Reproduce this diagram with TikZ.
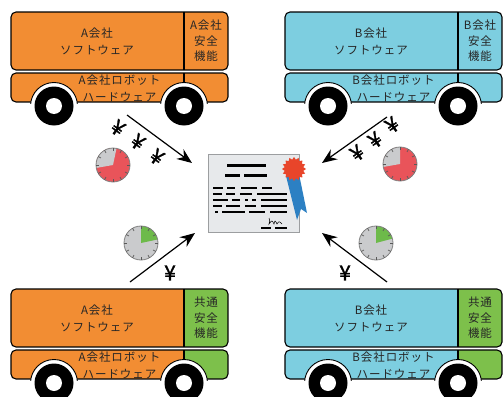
\documentclass[tikz,border=0pt]{standalone}
\usepackage{fontspec}
\setmainfont{Noto Sans CJK JP}
\newfontfamily\jpwide[LetterSpace=8]{Noto Sans CJK JP}
\newfontfamily\yenfont[FakeBold=1.5]{Noto Sans CJK JP}
\usetikzlibrary{arrows.meta,calc}

\definecolor{bodyA}{HTML}{F28D33}
\definecolor{bodyB}{HTML}{7DCEE0}
\definecolor{safeG}{HTML}{7DC04B}
\definecolor{clockgray}{HTML}{CACBCD}
\definecolor{clockred}{HTML}{E9545A}
\definecolor{clockgreen}{HTML}{6DBA4A}
\definecolor{certfill}{HTML}{E7E9EB}
\definecolor{certedge}{HTML}{9C9EA0}
\definecolor{sealred}{HTML}{E8452A}
\definecolor{ribbonblue}{HTML}{2C80C3}

\tikzset{
  outline/.style={draw=black, line width=1.1pt},
  robotlabel/.style={font=\jpwide\fontsize{11.5}{16.5}\selectfont, align=center, inner sep=0pt, text=black!85},
  sidelabel/.style={font=\jpwide\fontsize{11.5}{15.5}\selectfont, align=center, inner sep=0pt, text=black!85},
  yen/.style={font=\yenfont\fontsize{21}{21}\selectfont, inner sep=-2pt},
  flow/.style={line width=1.2pt, -{Stealth[length=15pt,width=12pt,inset=5pt]}},
  dashrow/.style={line width=1.6pt},
  clockrim/.style={draw=black!50, line width=0.8pt},
  clocktick/.style={draw=black!65, line width=0.7pt},
}

% robot: #1,#2 top-left corner; #3 body colour; #4 safety block colour;
% #5 name; #6 software text; #7 hardware text; #8 safety text
\newcommand\robotdraw[8]{%
  \begin{scope}[shift={(#1,#2)}]
    % upper body
    \begin{scope}
      \clip[rounded corners=5pt] (0,0) rectangle (217,58);
      \fill[#3] (0,0) rectangle (217,58);
      \fill[#4] (173,0) rectangle (217,58);
    \end{scope}
    \draw[outline, rounded corners=5pt] (0,0) rectangle (217,58);
    \draw[outline] (173,0) -- (173,58);
    % lower body
    \begin{scope}
      \clip[rounded corners=5pt] (0,61) rectangle (217,90);
      \fill[#3] (0,61) rectangle (217,90);
      \fill[#4] (173,61) rectangle (217,90);
    \end{scope}
    \draw[outline, rounded corners=5pt] (0,61) rectangle (217,90);
    \draw[outline] (173,61) -- (173,90);
    % wheel arches
    \begin{scope}
      \clip (-2,61) rectangle (219,91.5);
      \foreach \wx in {43,173}
        \draw[fill=white, line width=0.9pt] (\wx,94) circle (23.5);
    \end{scope}
    % wheels
    \foreach \wx in {43,173} {
      \fill[black] (\wx,94) circle (19.5);
      \fill[white] (\wx,94) circle (8);
    }
    \node[robotlabel] (#5-sw) at (86,29.5) {#6};
    \node[robotlabel] (#5-hw) at (108.5,76.5) {#7};
    \node[sidelabel] (#5-safe) at (195,29) {#8};
  \end{scope}%
}

% clock: #1 name; #2 centre; #3 face colour; #4 slice colour; #5,#6 slice angles
\newcommand\clockdraw[6]{%
  \coordinate (#1) at (#2);
  \fill[#3] (#1) circle (17);
  \fill[#4] (#1) -- ++(#5:17) arc[start angle=#5, end angle=#6, radius=17] -- cycle;
  \draw[clockrim] (#1) circle (17);
  \foreach \a in {0,30,...,330}
    \draw[clocktick] ($(#1)+(\a:17)$) -- ($(#1)+(\a:14)$);
}

\begin{document}
\begin{tikzpicture}[x=1pt, y=-1pt]
  \useasboundingbox (0,0) rectangle (503,396);
  \clip (0,0) rectangle (503,396);
  \fill[white] (0,0) rectangle (503,396);

  % four robots
  \robotdraw{11}{12}{bodyA}{bodyA}{ra}{A会社\\ソフトウェア}{A会社ロボット\\ハードウェア}{A会社\\安全\\機能}
  \robotdraw{285}{12}{bodyB}{bodyB}{rb}{B会社\\ソフトウェア}{B会社ロボット\\ハードウェア}{B会社\\安全\\機能}
  \robotdraw{11}{289}{bodyA}{safeG}{rc}{A会社\\ソフトウェア}{A会社ロボット\\ハードウェア}{共通\\安全\\機能}
  \robotdraw{285}{289}{bodyB}{safeG}{rd}{B会社\\ソフトウェア}{B会社ロボット\\ハードウェア}{共通\\安全\\機能}

  % certificate
  \node[name=cert, draw=certedge, fill=certfill, line width=1pt,
        minimum width=91pt, minimum height=78pt, inner sep=0pt] at (253.5,193) {};
  \draw[line width=3pt] (227,165) -- (266,165);
  \draw[line width=3pt] (225,175) -- (240,175) (244,175) -- (267,175);
  \draw[dashrow] (213,188) -- (223,188) (227,188) -- (235,188) (241,188) -- (257,188) (262,188) -- (272,188);
  \draw[dashrow] (213,194) -- (222,194) (226,194) -- (235,194) (240,194) -- (252,194) (257,194) -- (287,194);
  \draw[dashrow] (213,200) -- (228,200) (232,200) -- (240,200) (245,200) -- (248,200) (252,200) -- (256,200) (261,200) -- (287,200);
  \draw[dashrow] (213,206) -- (222,206) (226,206) -- (240,206) (245,206) -- (256,206) (261,206) -- (287,206);
  \draw[dashrow] (215,212) -- (218,212) (222,212) -- (245,212) (249,212) -- (265,212) (270,212) -- (287,212);
  \draw[line width=0.5pt] (269,218) .. controls (270,221) .. (269,224)
    .. controls (272,220) .. (274,224) .. controls (275,220) .. (277,224)
    .. controls (279,221) .. (282,224);
  \draw[dashrow] (261,228) -- (271,228) (275,228) -- (287,228);
  % ribbon and seal
  \fill[ribbonblue] (286,176) -- (299,174) -- (307,213) -- (301,209) -- (297,220) -- cycle;
  \fill[sealred, shift={(294,169)}] (0:12)
    \foreach \k in {1,...,31} { -- ({\k*11.25}:{ifthenelse(isodd(\k),9.5,12)}) } -- cycle;

  % clocks
  \clockdraw{clA}{113,165}{clockred}{clockgray}{-190}{-78}
  \clockdraw{clB}{400,164}{clockred}{clockgray}{-190}{-90}
  \clockdraw{clC}{141,243}{clockgray}{clockgreen}{-90}{-12}
  \clockdraw{clD}{376,243}{clockgray}{clockgreen}{-90}{-15}

  % payment flows
  \coordinate (fa0) at (127,115); \coordinate (fa1) at (192,163);
  \coordinate (fb0) at (387,117); \coordinate (fb1) at (322,163);
  \coordinate (fc0) at (130,282); \coordinate (fc1) at (195,233);
  \coordinate (fd0) at (387,282); \coordinate (fd1) at (322,233);
  \draw[flow] (fa0) -- (fa1);
  \draw[flow] (fb0) -- (fb1);
  \draw[flow] (fc0) -- (fc1);
  \draw[flow] (fd0) -- (fd1);

  % yen marks
  \node[yen, rotate=-36] (ya1) at (118,128) {¥};
  \node[yen, rotate=-36] (ya2) at (138,142) {¥};
  \node[yen, rotate=-36] (ya3) at (157,157) {¥};
  \node[yen, rotate=35] (yb1) at (392,125) {¥};
  \node[yen, rotate=35] (yb2) at (375,140) {¥};
  \node[yen, rotate=35] (yb3) at (357,153) {¥};
  \node[yen] (yc) at (170,273) {¥};
  \node[yen] (yd) at (345,273) {¥};
\end{tikzpicture}
\end{document}
